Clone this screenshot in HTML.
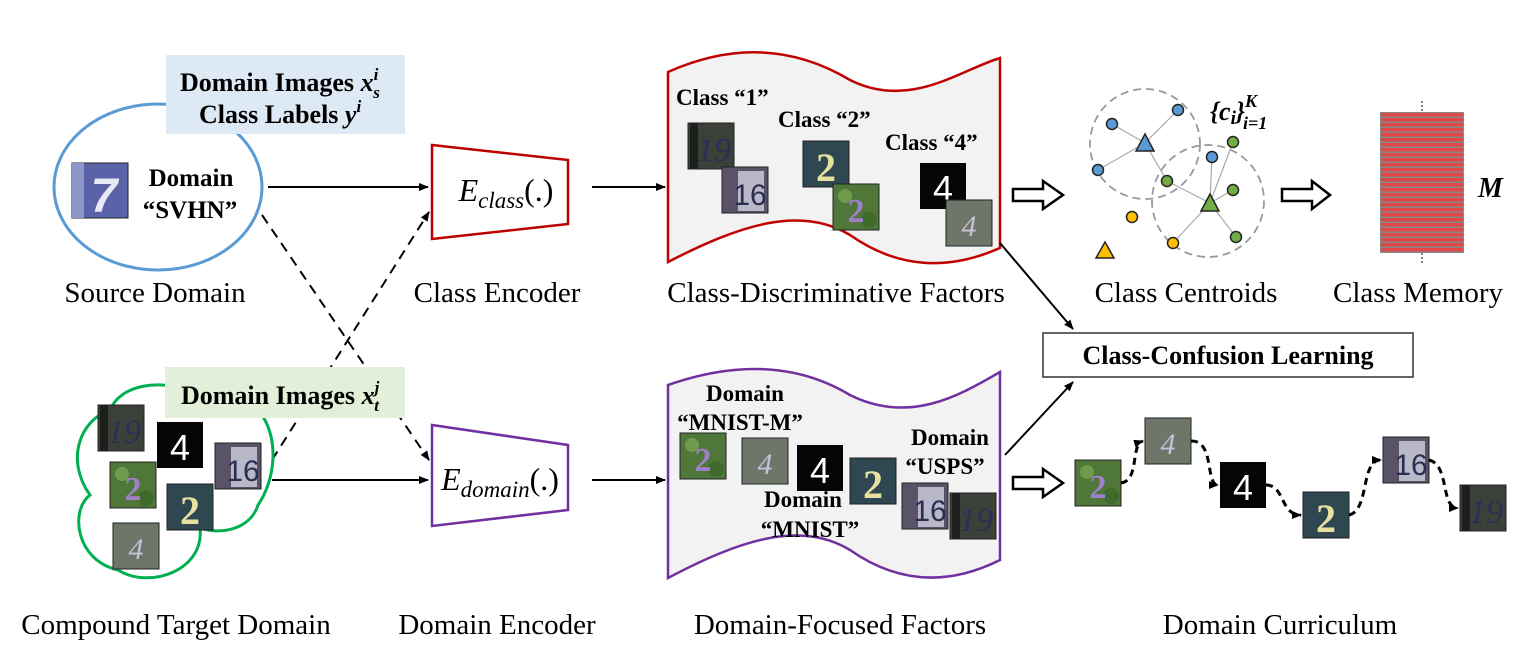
<!DOCTYPE html>
<html><head><meta charset="utf-8"><style>
html,body{margin:0;padding:0;background:#fff;width:1528px;height:652px;overflow:hidden}
svg{display:block}
.s{font-family:"Liberation Serif",serif}
.b{font-family:"Liberation Serif",serif;font-weight:bold}
</style></head><body>
<svg width="1528" height="652" viewBox="0 0 1528 652" xmlns="http://www.w3.org/2000/svg">
<defs>
<marker id="ah" markerWidth="10" markerHeight="8" refX="9" refY="4" orient="auto" markerUnits="userSpaceOnUse"><path d="M0,0 L10,4 L0,8 z" fill="#000"/></marker>
<g id="t19"><rect width="46" height="46" fill="#3b4038" stroke="#222"/><rect x="2" y="0" width="8" height="46" fill="#1c1f1c"/><text x="26" y="38" font-family="Liberation Serif" font-style="italic" font-size="34" fill="#2a2f58" text-anchor="middle">19</text></g>
<g id="t4"><rect width="46" height="46" fill="#050505"/><text x="23" y="38" font-family="Liberation Sans" font-size="36" fill="#fff" text-anchor="middle">4</text></g>
<g id="t16"><rect width="46" height="46" fill="#5a5266" stroke="#222"/><rect x="16" y="4" width="26" height="40" fill="#b9b8c8"/><text x="28" y="38" font-family="Liberation Sans" font-size="30" fill="#2b2d52" text-anchor="middle">16</text></g>
<g id="tf"><rect width="46" height="46" fill="#50773a" stroke="#222"/><circle cx="12" cy="12" r="7" fill="#6f9a4e"/><circle cx="36" cy="36" r="8" fill="#3f6a2c"/><text x="23" y="38" font-family="Liberation Serif" font-size="34" fill="#a080c8" text-anchor="middle" font-weight="bold">2</text></g>
<g id="t2"><rect width="46" height="46" fill="#2f4751" stroke="#222"/><text x="23" y="40" font-family="Liberation Serif" font-size="40" fill="#e8e0a0" text-anchor="middle" font-weight="bold">2</text></g>
<g id="tu"><rect width="46" height="46" fill="#6e7669" stroke="#222"/><text x="23" y="36" font-family="Liberation Serif" font-style="italic" font-size="30" fill="#c8c0d8" text-anchor="middle">4</text></g>
</defs>

<!-- Source domain -->
<ellipse cx="158" cy="187" rx="104" ry="83" fill="none" stroke="#5b9bd5" stroke-width="3"/>
<rect x="166" y="55" width="239" height="79" fill="#dde9f4"/>
<text class="b" x="180" y="91" font-size="26">Domain Images <tspan font-style="italic">x</tspan><tspan font-style="italic" font-size="17" dy="-11">i</tspan><tspan font-style="italic" font-size="17" dx="-5" dy="18">s</tspan></text>
<text class="b" x="199" y="123" font-size="26">Class Labels <tspan font-style="italic">y</tspan><tspan font-style="italic" font-size="17" dy="-11">i</tspan></text>
<rect x="72" y="163" width="56" height="55" fill="#5a62a8" stroke="#222"/><rect x="72" y="163" width="12" height="55" fill="#8e96c8"/>
<text x="104" y="212" font-family="Liberation Sans" font-size="48" font-weight="bold" fill="#e8eaf4" text-anchor="middle" font-style="italic">7</text>
<text class="b" x="191" y="186" font-size="25" text-anchor="middle">Domain</text>
<text class="b" x="190" y="218" font-size="25" text-anchor="middle">“SVHN”</text>
<text class="s" x="155" y="302" font-size="29" text-anchor="middle">Source Domain</text>

<line x1="268" y1="187" x2="428" y2="187" stroke="#000" stroke-width="2" marker-end="url(#ah)"/>
<line x1="262" y1="215" x2="429" y2="460" stroke="#000" stroke-width="2" stroke-dasharray="10,7" marker-end="url(#ah)"/>
<line x1="272" y1="460" x2="429" y2="212" stroke="#000" stroke-width="2" stroke-dasharray="10,7" marker-end="url(#ah)"/>

<!-- class encoder -->
<polygon points="432,145 568,160 568,224 432,239" fill="#fff" stroke="#c00000" stroke-width="2.5"/>
<text class="s" x="506" y="201" font-size="32" text-anchor="middle"><tspan font-style="italic">E</tspan><tspan font-style="italic" font-size="23" dy="7">class</tspan><tspan dy="-7">(.)</tspan></text>
<text class="s" x="497" y="302" font-size="29" text-anchor="middle">Class Encoder</text>
<line x1="592" y1="187" x2="665" y2="187" stroke="#000" stroke-width="2" marker-end="url(#ah)"/>

<!-- class banner -->
<path d="M668,72 C740,40 800,50 850,80 C910,110 960,70 1000,58 L1000,248 C950,270 900,270 850,235 C800,205 740,225 668,262 Z" fill="#f2f2f2" stroke="#c00000" stroke-width="2.5"/>
<text class="b" x="676" y="105" font-size="23">Class “1”</text>
<use href="#t19" x="688" y="123"/><use href="#t16" x="722" y="167"/>
<text class="b" x="778" y="127" font-size="23">Class “2”</text>
<use href="#t2" x="803" y="141"/><use href="#tf" x="833" y="184"/>
<text class="b" x="885" y="150" font-size="23">Class “4”</text>
<use href="#t4" x="920" y="163"/><use href="#tu" x="946" y="200"/>
<text class="s" x="836" y="302" font-size="29" text-anchor="middle">Class-Discriminative Factors</text>

<!-- open arrows -->
<g fill="#fff" stroke="#000" stroke-width="2.5">
<path d="M1013,189 L1043,189 L1043,181 L1063,195 L1043,209 L1043,201 L1013,201 Z"/>
<path d="M1282,189 L1312,189 L1312,181 L1330,195 L1312,209 L1312,201 L1282,201 Z"/>
<path d="M1013,477 L1043,477 L1043,469 L1063,483 L1043,497 L1043,489 L1013,489 Z"/>
</g>

<!-- centroids -->
<g fill="none" stroke="#999" stroke-width="1.8" stroke-dasharray="8,5">
<circle cx="1145" cy="144" r="55"/><circle cx="1208" cy="201" r="56"/></g>
<g stroke="#aaa" stroke-width="1.2">
<line x1="1145" y1="143" x2="1112" y2="124"/><line x1="1145" y1="143" x2="1178" y2="110"/><line x1="1145" y1="143" x2="1098" y2="170"/><line x1="1145" y1="143" x2="1167" y2="181"/>
<line x1="1210" y1="203" x2="1167" y2="181"/><line x1="1210" y1="203" x2="1212" y2="157"/><line x1="1210" y1="203" x2="1233" y2="142"/><line x1="1210" y1="203" x2="1233" y2="190"/><line x1="1210" y1="203" x2="1236" y2="237"/><line x1="1210" y1="203" x2="1173" y2="243"/>
</g>
<g stroke="#222" stroke-width="1.5">
<circle cx="1112" cy="124" r="5.5" fill="#5b9bd5"/><circle cx="1178" cy="110" r="5.5" fill="#5b9bd5"/><circle cx="1098" cy="170" r="5.5" fill="#5b9bd5"/><circle cx="1212" cy="157" r="5.5" fill="#5b9bd5"/>
<circle cx="1233" cy="142" r="5.5" fill="#70ad47"/><circle cx="1167" cy="181" r="5.5" fill="#70ad47"/><circle cx="1233" cy="190" r="5.5" fill="#70ad47"/><circle cx="1236" cy="237" r="5.5" fill="#70ad47"/>
<circle cx="1132" cy="217" r="5.5" fill="#ffc000"/><circle cx="1173" cy="243" r="5.5" fill="#ffc000"/>
<polygon points="1145,134 1154,151 1136,151" fill="#5b9bd5"/>
<polygon points="1210,194 1219,211 1201,211" fill="#70ad47"/>
<polygon points="1105,242 1114,258 1096,258" fill="#ffc000"/>
</g>
<text class="b" x="1210" y="120" font-size="26" font-style="italic">{c<tspan font-size="19" dy="4">i</tspan><tspan dy="-4">}</tspan><tspan font-size="18" dy="-13">K</tspan><tspan font-size="18" dx="-14" dy="22">i=1</tspan></text>
<text class="s" x="1186" y="302" font-size="29" text-anchor="middle">Class Centroids</text>

<!-- memory -->
<line x1="1422" y1="101" x2="1422" y2="112" stroke="#555" stroke-width="1.5" stroke-dasharray="2,2"/>
<line x1="1422" y1="253" x2="1422" y2="264" stroke="#555" stroke-width="1.5" stroke-dasharray="2,2"/>
<rect x="1380" y="112" width="84" height="141" fill="#888"/>
<g fill="#e04848">
<rect x="1381" y="113" width="82" height="3.5"/><rect x="1381" y="118" width="82" height="3.5"/><rect x="1381" y="123" width="82" height="3.5"/><rect x="1381" y="128" width="82" height="3.5"/><rect x="1381" y="133" width="82" height="3.5"/><rect x="1381" y="138" width="82" height="3.5"/><rect x="1381" y="143" width="82" height="3.5"/><rect x="1381" y="148" width="82" height="3.5"/><rect x="1381" y="153" width="82" height="3.5"/><rect x="1381" y="158" width="82" height="3.5"/><rect x="1381" y="163" width="82" height="3.5"/><rect x="1381" y="168" width="82" height="3.5"/><rect x="1381" y="173" width="82" height="3.5"/><rect x="1381" y="178" width="82" height="3.5"/><rect x="1381" y="183" width="82" height="3.5"/><rect x="1381" y="188" width="82" height="3.5"/><rect x="1381" y="193" width="82" height="3.5"/><rect x="1381" y="198" width="82" height="3.5"/><rect x="1381" y="203" width="82" height="3.5"/><rect x="1381" y="208" width="82" height="3.5"/><rect x="1381" y="213" width="82" height="3.5"/><rect x="1381" y="218" width="82" height="3.5"/><rect x="1381" y="223" width="82" height="3.5"/><rect x="1381" y="228" width="82" height="3.5"/><rect x="1381" y="233" width="82" height="3.5"/><rect x="1381" y="238" width="82" height="3.5"/><rect x="1381" y="243" width="82" height="3.5"/><rect x="1381" y="248" width="82" height="3.5"/>
</g>
<text class="b" x="1478" y="197" font-size="28" font-style="italic">M</text>
<text class="s" x="1418" y="302" font-size="29" text-anchor="middle">Class Memory</text>

<!-- confusion -->
<line x1="1000" y1="243" x2="1073" y2="329" stroke="#000" stroke-width="2" marker-end="url(#ah)"/>
<line x1="1005" y1="455" x2="1073" y2="382" stroke="#000" stroke-width="2" marker-end="url(#ah)"/>
<rect x="1043" y="333" width="370" height="44" fill="#fff" stroke="#333" stroke-width="1.5"/>
<text class="b" x="1228" y="364" font-size="26" text-anchor="middle">Class-Confusion Learning</text>

<!-- target domain cloud -->
<path d="M110,410 C120,385 160,378 190,392 L260,412 C280,440 275,480 258,505 C250,530 220,535 200,528 C205,570 150,590 118,570 C75,560 70,510 90,495 C65,460 80,420 110,410 Z" fill="#fff" stroke="#00b050" stroke-width="3"/>
<use href="#t19" x="98" y="405"/>
<use href="#t4" x="157" y="422"/>
<use href="#t16" x="215" y="443"/>
<use href="#tf" x="110" y="462"/>
<use href="#t2" x="167" y="484"/>
<use href="#tu" x="113" y="523"/>
<rect x="165" y="367" width="240" height="51" fill="#e2efd9"/>
<text class="b" x="181" y="404" font-size="26">Domain Images <tspan font-style="italic">x</tspan><tspan font-style="italic" font-size="17" dy="-11">j</tspan><tspan font-style="italic" font-size="17" dx="-5" dy="18">t</tspan></text>
<text class="s" x="176" y="634" font-size="29" text-anchor="middle">Compound Target Domain</text>

<line x1="272" y1="480" x2="428" y2="480" stroke="#000" stroke-width="2" marker-end="url(#ah)"/>
<polygon points="432,425 568,445 568,510 432,526" fill="#fff" stroke="#7030a0" stroke-width="2.5"/>
<text class="s" x="500" y="490" font-size="32" text-anchor="middle"><tspan font-style="italic">E</tspan><tspan font-style="italic" font-size="23" dy="7">domain</tspan><tspan dy="-7">(.)</tspan></text>
<text class="s" x="497" y="634" font-size="29" text-anchor="middle">Domain Encoder</text>
<line x1="592" y1="480" x2="665" y2="480" stroke="#000" stroke-width="2" marker-end="url(#ah)"/>

<path d="M668,385 C740,360 800,365 850,395 C910,425 960,395 1000,372 L1000,560 C950,585 900,585 850,550 C800,520 740,540 668,578 Z" fill="#f2f2f2" stroke="#7030a0" stroke-width="2.5"/>
<text class="b" x="745" y="401" font-size="23" text-anchor="middle">Domain</text>
<text class="b" x="740" y="430" font-size="23" text-anchor="middle">“MNIST-M”</text>
<use href="#tf" x="680" y="433"/><use href="#tu" x="742" y="438"/><use href="#t4" x="797" y="445"/><use href="#t2" x="850" y="458"/>
<text class="b" x="803" y="507" font-size="23" text-anchor="middle">Domain</text>
<text class="b" x="810" y="537" font-size="23" text-anchor="middle">“MNIST”</text>
<text class="b" x="950" y="445" font-size="23" text-anchor="middle">Domain</text>
<text class="b" x="945" y="474" font-size="23" text-anchor="middle">“USPS”</text>
<use href="#t16" x="902" y="483"/><use href="#t19" x="950" y="493"/>
<text class="s" x="840" y="634" font-size="29" text-anchor="middle">Domain-Focused Factors</text>

<!-- curriculum -->
<use href="#tf" x="1075" y="460"/><use href="#tu" x="1145" y="418"/><use href="#t4" x="1220" y="462"/><use href="#t2" x="1303" y="492"/><use href="#t16" x="1383" y="437"/><use href="#t19" x="1460" y="485"/>
<g fill="none" stroke="#000" stroke-width="3" stroke-dasharray="7,5">
<path d="M1121,483 C1140,480 1130,445 1143,441" marker-end="url(#ah)"/>
<path d="M1191,441 C1215,440 1205,485 1218,485" marker-end="url(#ah)"/>
<path d="M1266,485 C1285,485 1280,515 1301,515" marker-end="url(#ah)"/>
<path d="M1349,515 C1370,510 1360,460 1381,460" marker-end="url(#ah)"/>
<path d="M1429,460 C1450,465 1440,508 1458,508" marker-end="url(#ah)"/>
</g>
<text class="s" x="1280" y="634" font-size="29" text-anchor="middle">Domain Curriculum</text>
</svg>
</body></html>
